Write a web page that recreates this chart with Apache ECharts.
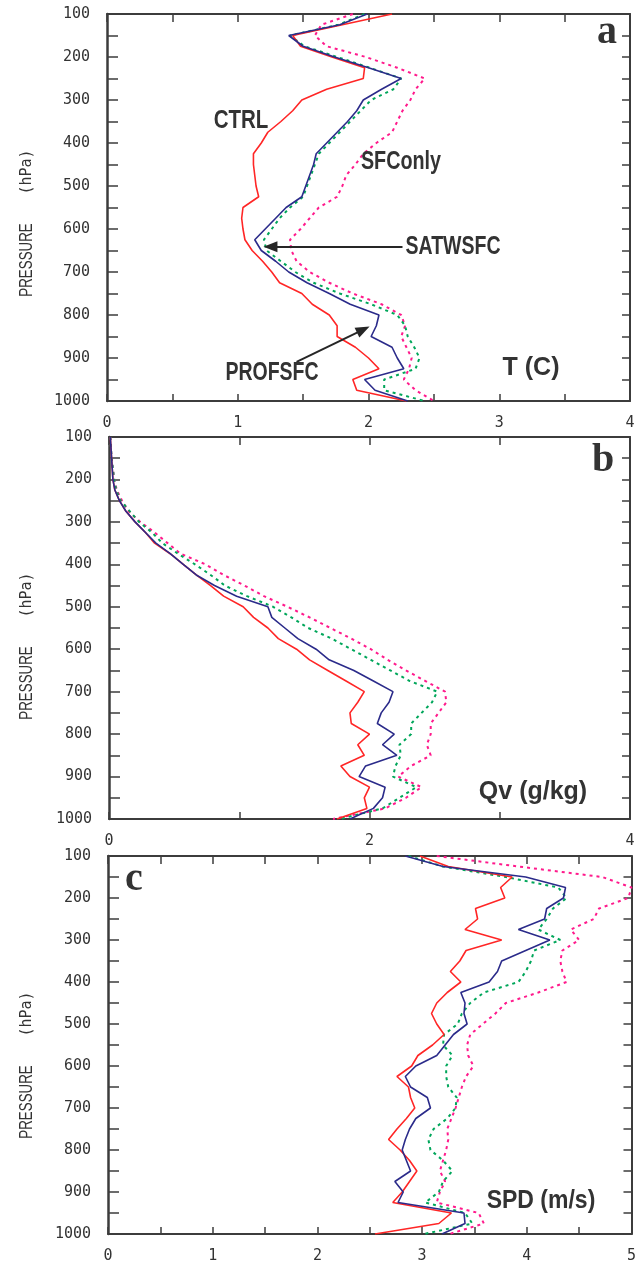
<!DOCTYPE html>
<html>
<head>
<meta charset="utf-8">
<script src="https://cdn.jsdelivr.net/npm/echarts@6/dist/echarts.min.js"></script>
<style>
html,body{margin:0;padding:0;background:#fff;}
#chart{width:639px;height:1264px;}
</style>
</head>
<body>
<div id="chart"></div>
<script>
// Pressure levels (hPa)
const levels = [100,125,150,175,200,225,250,275,300,325,350,375,400,425,450,475,500,525,550,575,600,625,650,675,700,725,750,775,800,825,850,875,900,925,950,975,1000];

// Panel a: T (C)
const tCtrl = [2.18,1.80,1.42,1.48,1.72,1.97,1.96,1.68,1.49,1.42,1.33,1.23,1.18,1.12,1.12,1.13,1.14,1.16,1.04,1.03,1.04,1.055,1.11,1.19,1.26,1.32,1.49,1.57,1.70,1.76,1.76,1.90,2.00,2.08,1.88,1.91,2.29];
const tProf = [1.99,1.78,1.39,1.50,1.74,2.00,2.25,2.10,1.96,1.91,1.84,1.76,1.68,1.60,1.58,1.55,1.52,1.49,1.37,1.29,1.21,1.13,1.18,1.29,1.39,1.53,1.70,1.86,2.08,2.06,2.02,2.18,2.22,2.27,1.97,2.05,2.30];
const tSatw = [1.97,1.77,1.40,1.51,1.76,2.01,2.25,2.19,2.02,1.94,1.86,1.78,1.70,1.62,1.59,1.56,1.53,1.50,1.40,1.32,1.26,1.20,1.22,1.33,1.44,1.58,1.78,2.02,2.22,2.28,2.30,2.35,2.39,2.36,2.12,2.12,2.43];
const tSfc  = [1.88,1.64,1.59,1.68,1.98,2.22,2.43,2.36,2.32,2.26,2.22,2.18,2.06,1.96,1.90,1.83,1.80,1.76,1.62,1.55,1.48,1.40,1.41,1.45,1.55,1.70,1.88,2.10,2.25,2.28,2.25,2.29,2.33,2.31,2.27,2.36,2.50];

// Panel b: Qv (g/kg)
const qCtrl = [0.01,0.015,0.02,0.025,0.03,0.045,0.08,0.13,0.20,0.28,0.35,0.47,0.57,0.67,0.78,0.88,1.03,1.11,1.22,1.30,1.44,1.54,1.68,1.82,1.96,1.91,1.85,1.86,2.00,1.91,1.96,1.78,1.85,2.00,1.96,1.98,1.75];
const qProf = [0.01,0.015,0.02,0.025,0.03,0.045,0.08,0.13,0.20,0.28,0.36,0.47,0.57,0.67,0.81,0.98,1.22,1.25,1.35,1.45,1.59,1.69,1.88,2.03,2.18,2.15,2.09,2.06,2.19,2.10,2.21,1.97,1.92,2.12,2.10,2.03,1.85];
const qSatw = [0.01,0.015,0.02,0.03,0.04,0.055,0.09,0.16,0.23,0.33,0.41,0.53,0.66,0.78,0.89,1.06,1.26,1.40,1.53,1.71,1.86,2.01,2.16,2.31,2.52,2.48,2.40,2.32,2.32,2.23,2.24,2.20,2.18,2.36,2.23,2.10,1.77];
const qSfc  = [0.01,0.015,0.02,0.03,0.04,0.06,0.10,0.15,0.24,0.35,0.45,0.55,0.74,0.88,1.04,1.19,1.37,1.54,1.70,1.86,2.01,2.14,2.28,2.43,2.58,2.59,2.53,2.47,2.47,2.44,2.47,2.32,2.22,2.40,2.28,2.12,1.72];

// Panel c: SPD (m/s)
const sCtrl = [2.98,3.25,3.86,3.75,3.79,3.51,3.53,3.41,3.76,3.42,3.36,3.27,3.37,3.24,3.14,3.09,3.14,3.21,3.10,2.96,2.90,2.76,2.87,2.89,2.93,2.85,2.76,2.68,2.79,2.88,2.95,2.88,2.81,2.72,3.28,3.16,2.55];
const sProf = [2.84,3.20,3.99,4.37,4.35,4.19,4.17,3.92,4.22,3.99,3.76,3.72,3.64,3.37,3.41,3.40,3.43,3.30,3.22,3.14,2.94,2.84,2.89,3.05,3.08,2.94,2.88,2.84,2.81,2.85,2.89,2.74,2.82,2.77,3.40,3.41,3.19];
const sSatw = [2.87,3.20,3.80,4.30,4.38,4.25,4.19,4.11,4.32,4.07,4.04,3.99,3.92,3.59,3.46,3.38,3.34,3.21,3.20,3.29,3.23,3.23,3.25,3.33,3.32,3.24,3.11,3.06,3.08,3.20,3.29,3.20,3.16,3.03,3.41,3.48,3.02];
const sSfc  = [3.14,3.92,4.72,5.00,4.97,4.69,4.64,4.42,4.50,4.34,4.32,4.34,4.38,4.11,3.80,3.70,3.58,3.46,3.43,3.44,3.49,3.42,3.38,3.35,3.32,3.28,3.24,3.25,3.23,3.20,3.17,3.22,3.17,3.14,3.54,3.59,3.26];

// Tick labels
const pressureLabels = [100,200,300,400,500,600,700,800,900,1000];
const xLabelsA = [0,1,2,3,4];
const xLabelsB = [0,2,4];
const xLabelsC = [0,1,2,3,4,5];

const seriesNames = ['CTRL','PROFSFC','SATWSFC','SFConly'];
const colors = {CTRL:'#ff2626', PROFSFC:'#2b2b8a', SATWSFC:'#00a65a', SFConly:'#ff1a8c'};

const chart = echarts.init(document.getElementById('chart'));
const axisColor = '#3c3c3c';
const monoFont = '"DejaVu Sans Mono", "Liberation Mono", monospace';

const grids = [
  {left:107, top:14, width:523, height:387},
  {left:109, top:437, width:521, height:382},
  {left:108, top:856, width:525, height:380}
];
const xSpecs = [
  {max:4, interval:0.5, labels:xLabelsA},
  {max:4, interval:1, labels:xLabelsB},
  {max:5, interval:0.5, labels:xLabelsC}
];

const xAxes = [], yAxes = [];
grids.forEach((g, i) => {
  const s = xSpecs[i];
  xAxes.push({
    type:'value', gridIndex:i, min:0, max:s.max, interval:s.interval, position:'bottom',
    axisLine:{show:true, onZero:false, lineStyle:{color:axisColor, width:2}},
    axisTick:{show:true, inside:true, length:7, lineStyle:{color:axisColor, width:1.5}},
    splitLine:{show:false},
    axisLabel:{show:true, margin:15, color:'#333', fontFamily:monoFont, fontSize:15,
      showMinLabel:true, showMaxLabel:true,
      formatter:v => s.labels.indexOf(v) >= 0 ? String(v) : ''}
  });
  xAxes.push({
    type:'value', gridIndex:i, min:0, max:s.max, interval:s.interval, position:'top',
    axisLine:{show:true, onZero:false, lineStyle:{color:axisColor, width:2}},
    axisTick:{show:true, inside:true, length:8, lineStyle:{color:axisColor, width:1.5}},
    splitLine:{show:false}, axisLabel:{show:false}
  });
  yAxes.push({
    type:'value', gridIndex:i, min:100, max:1000, interval:50, inverse:true, position:'left',
    axisLine:{show:true, onZero:false, lineStyle:{color:axisColor, width:2.5}},
    axisTick:{show:true, inside:true, length:11, lineStyle:{color:axisColor, width:1.5}},
    splitLine:{show:false},
    axisLabel:{show:true, margin:17, color:'#333', fontFamily:monoFont, fontSize:15,
      showMinLabel:true, showMaxLabel:true,
      formatter:v => pressureLabels.indexOf(v) >= 0 ? String(v) : ''}
  });
  yAxes.push({
    type:'value', gridIndex:i, min:100, max:1000, interval:50, inverse:true, position:'right',
    axisLine:{show:true, onZero:false, lineStyle:{color:axisColor, width:2}},
    axisTick:{show:true, inside:true, length:8, lineStyle:{color:axisColor, width:1.5}},
    splitLine:{show:false}, axisLabel:{show:false}
  });
});

const panelData = [
  [tCtrl, tProf, tSatw, tSfc],
  [qCtrl, qProf, qSatw, qSfc],
  [sCtrl, sProf, sSatw, sSfc]
];

const series = [];
panelData.forEach((arrs, pi) => {
  // draw order: dotted first, solid on top
  [3,2,0,1].forEach(k => {
    const name = seriesNames[k];
    const dotted = (name === 'SATWSFC' || name === 'SFConly');
    const s = {
      type:'line', name:name, xAxisIndex:pi*2, yAxisIndex:pi*2,
      data: levels.map((p, j) => [arrs[k][j], p]),
      showSymbol:false, symbol:'none', silent:true, smooth:false, clip:true,
      lineStyle:{color:colors[name], width: dotted ? 2 : 1.6, type: dotted ? [3,4] : 'solid'},
      z: dotted ? 2 : 3
    };
    if (pi === 0 && name === 'PROFSFC') {
      s.markLine = {
        silent:true, symbol:['none','triangle'], symbolSize:[11,14],
        label:{show:false},
        lineStyle:{color:'#262626', width:2, type:'solid'},
        itemStyle:{color:'#262626'},
        data:[
          [{coord:[2.26, 641]}, {coord:[1.25, 641]}],
          [{coord:[1.45, 909]}, {coord:[1.96, 834]}]
        ]
      };
    }
    series.push(s);
  });
});

const labelFont = '"Liberation Sans", Arial, sans-serif';
function txt(text, x, y, opts) {
  opts = opts || {};
  return {
    type:'text', x:x, y:y, rotation:opts.rotation || 0,
    scaleX:opts.scaleX || 1, scaleY:1, z:10,
    style:{text:text, x:0, y:0, fill:opts.fill || '#333',
      font:opts.font || ('bold 25px ' + labelFont),
      textAlign:'center', align:'center', textVerticalAlign:'middle', verticalAlign:'middle'}
  };
}

const graphics = [];
grids.forEach(g => {
  graphics.push(txt('PRESSURE', 27, g.top + 246, {rotation:Math.PI/2, scaleX:0.74, font:'18px ' + labelFont, fill:'#333'}));
  graphics.push(txt('(hPa)', 27, g.top + 158, {rotation:Math.PI/2, font:'15px ' + monoFont, fill:'#333'}));
});
graphics.push(txt('CTRL', 241, 121, {scaleX:0.82}));
graphics.push(txt('SFConly', 401, 162, {scaleX:0.79}));
graphics.push(txt('SATWSFC', 453, 247, {scaleX:0.78}));
graphics.push(txt('PROFSFC', 272, 373, {scaleX:0.78}));
graphics.push(txt('T (C)', 531, 368, {scaleX:1.0}));
graphics.push(txt('Qv (g/kg)', 533, 792, {scaleX:1.0}));
graphics.push(txt('SPD (m/s)', 541, 1201, {scaleX:0.92}));
const serif = 'bold 40px "Liberation Serif", "Times New Roman", serif';
graphics.push(txt('a', 607, 33, {font:serif, fill:'#333'}));
graphics.push(txt('b', 603, 461, {font:serif, fill:'#333'}));
graphics.push(txt('c', 134, 880, {font:serif, fill:'#333'}));

chart.setOption({
  animation:false,
  backgroundColor:'#ffffff',
  grid:grids,
  xAxis:xAxes,
  yAxis:yAxes,
  series:series,
  graphic:graphics
});
</script>
</body>
</html>
